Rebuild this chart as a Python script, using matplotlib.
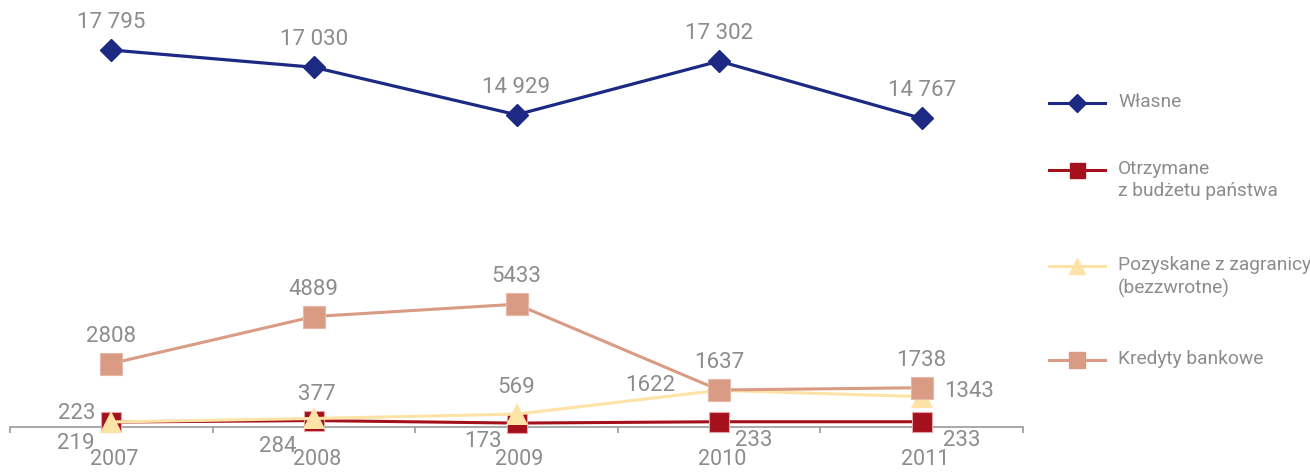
import matplotlib
matplotlib.use("Agg")
import matplotlib.pyplot as plt
from matplotlib import transforms

# ---- data ---------------------------------------------------------------
years = ["2007", "2008", "2009", "2010", "2011"]
wlasne = [17795, 17030, 14929, 17302, 14767]        # Własne
budzet = [219, 284, 173, 233, 233]                  # Otrzymane z budżetu państwa
zagranica = [223, 377, 569, 1622, 1343]             # Pozyskane z zagranicy (bezzwrotne)
kredyty = [2808, 4889, 5433, 1637, 1738]            # Kredyty bankowe

series_names = ["Własne", "Otrzymane\nz budżetu państwa",
                "Pozyskane z zagranicy\n(bezzwrotne)", "Kredyty bankowe"]

# ---- style --------------------------------------------------------------
NAVY = "#1c2a83"
RED = "#a5101d"
YELLOW = "#fde3a6"
SALMON = "#d99b84"
GRAY = "#8c8c8c"
AXIS_GRAY = "#9a9a9a"

plt.rcParams["font.family"] = ["Roboto", "DejaVu Sans"]

W, H = 1310, 472
fig = plt.figure(figsize=(W / 100, H / 100), dpi=100)
PT = 0.72  # points per pixel at 100 dpi


def rect(x0, y_top, x1, y_bot):
    return [x0 / W, 1 - y_bot / H, (x1 - x0) / W, (y_bot - y_top) / H]


K = 0.0226          # pixels per unit on both value panels
X0, X1 = 10, 1023   # horizontal extent of the plotting area

# lower panel (0 .. 7800) and upper panel (13800 .. 19100) share one scale
low_lim = (0, 7800)
up_lim = (13800, 19100)
low_bot = 427
low_top = low_bot - (low_lim[1] - low_lim[0]) * K
up_top = 20.5
up_bot = up_top + (up_lim[1] - up_lim[0]) * K

ax = fig.add_axes(rect(X0, low_top, X1, low_bot))
ax_up = fig.add_axes(rect(X0, up_top, X1, up_bot), sharex=ax)

for a in (ax, ax_up):
    a.set_facecolor("none")
    for s in a.spines.values():
        s.set_visible(False)
    a.set_yticks([])

ax.set_ylim(*low_lim)
ax_up.set_ylim(*up_lim)
ax.set_xlim(-0.5, len(years) - 0.5)

ax.spines["bottom"].set_visible(True)
ax.spines["bottom"].set_color(AXIS_GRAY)
ax.spines["bottom"].set_linewidth(1.2)
ax.set_xticks([i - 0.5 for i in range(len(years) + 1)])
ax.set_xticklabels([])
ax.tick_params(axis="x", direction="out", length=6 * PT, width=1.2, color=AXIS_GRAY)
ax_up.tick_params(axis="x", length=0, labelbottom=False)

x = list(range(len(years)))

# ---- lines --------------------------------------------------------------
ax_up.plot(x, wlasne, color=NAVY, lw=2.3, marker="D", ms=11.2,
           mec=NAVY, zorder=3, clip_on=False)
ax.plot(x, budzet, color=RED, lw=2.2, marker="s", ms=15,
        mec="#e7a2a6", mew=0.8, zorder=3, clip_on=False)
ax.plot(x, zagranica, color=YELLOW, lw=2.2, marker="^", ms=15.5,
        mec=YELLOW, mew=0, zorder=4, clip_on=False)
ax.plot(x, kredyty, color=SALMON, lw=2.2, marker="s", ms=15.5,
        mec="#e6b7a6", mew=0.8, zorder=5, clip_on=False)


# ---- value labels -------------------------------------------------------
def label(a, xi, yv, text, dx, dy, size=16):
    a.annotate(text, (xi, yv), xytext=(dx * PT, -dy * PT), textcoords="offset points",
               ha="center", va="center_baseline", fontsize=size, color=GRAY,
               annotation_clip=False, zorder=10)


for i, v in enumerate(wlasne):
    label(ax_up, i, v, f"{v:,}".replace(",", " "), 0, -30)

for i, v in enumerate(kredyty):
    label(ax, i, v, str(v), 0, -30)

zag_offsets = [(-35, -11), (3, -26), (0, -29), (-69, -7), (47, -8)]
for i, (v, (dx, dy)) in enumerate(zip(zagranica, zag_offsets)):
    label(ax, i, v, str(v), dx, dy)

bud_offsets = [(-35, 19), (-36, 23), (-34, 16), (35, 16), (40, 16)]
for i, (v, (dx, dy)) in enumerate(zip(budzet, bud_offsets)):
    label(ax, i, v, str(v), dx, dy)

# year labels under the axis
for i, yr in enumerate(years):
    ax.annotate(yr, (i, 0), xycoords=("data", "axes fraction"),
                xytext=(3 * PT, -(465 - low_bot) * PT), textcoords="offset points",
                ha="center", va="baseline", fontsize=15.5, color=GRAY,
                annotation_clip=False)

# ---- legend -------------------------------------------------------------
leg = fig.add_axes([0, 0, 1, 1])
leg.set_xlim(0, W)
leg.set_ylim(H, 0)
leg.axis("off")
leg.patch.set_alpha(0)

leg_rows = [103, 170, 266, 360]
leg_style = [
    dict(color=NAVY, marker="D", ms=8.7, mec=NAVY),
    dict(color=RED, marker="s", ms=10.8, mec=RED),
    dict(color=YELLOW, marker="^", ms=11.5, mec=YELLOW),
    dict(color=SALMON, marker="s", ms=11, mec=SALMON),
]
text_shift = transforms.ScaledTranslation(0, 10 / 100, fig.dpi_scale_trans)
for yrow, name, st in zip(leg_rows, series_names, leg_style):
    leg.plot([1049, 1105], [yrow, yrow], color=st["color"], lw=2.2)
    leg.plot([1077], [yrow], ls="none", marker=st["marker"], ms=st["ms"],
             color=st["color"], mec=st["mec"])
    leg.text(1118, yrow, name, fontsize=13.8, color=GRAY, ha="left", va="top",
             linespacing=1.3, transform=leg.transData + text_shift)

fig.savefig("out.png", dpi=100)
